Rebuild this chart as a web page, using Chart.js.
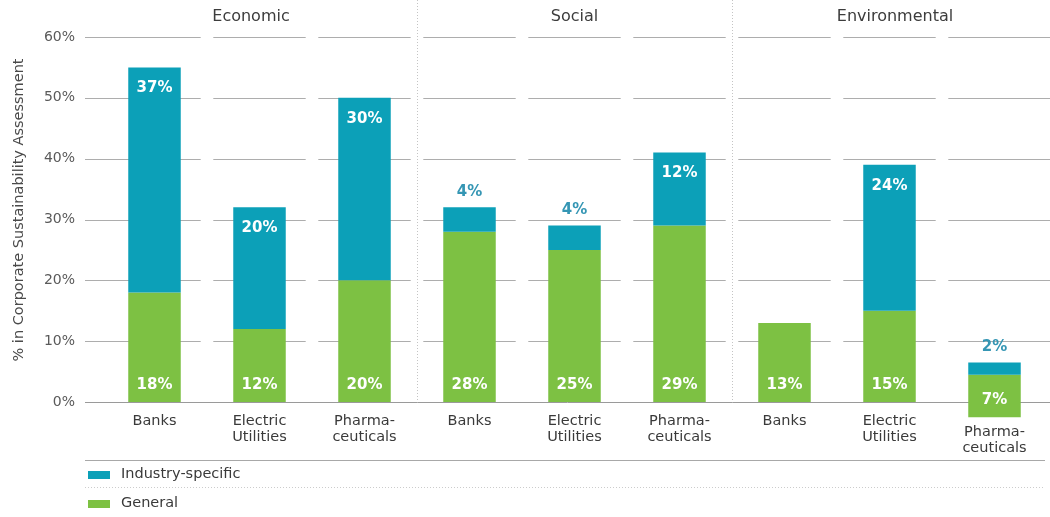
<!DOCTYPE html>
<html>
<head>
<meta charset="utf-8">
<script src="https://cdn.jsdelivr.net/npm/chart.js@4.4.1/dist/chart.umd.min.js"></script>
<style>
  html, body { margin: 0; padding: 0; background: #fff; }
  #wrap { position: relative; width: 1050px; height: 517px; }
</style>
</head>
<body>
<div id="wrap"><canvas id="chart"></canvas></div>
<script>
// criteria groups, each split by industry
const groups = ['Economic', 'Social', 'Environmental'];
const industries = [['Banks'], ['Electric', 'Utilities'], ['Pharma-', 'ceuticals']];
const categories = groups.flatMap(() => industries);

// weight (%) of general vs. industry-specific criteria
const general = [18, 12, 20, 28, 25, 29, 13, 15, 7];
const industrySpecific = [37, 20, 30, 4, 4, 12, 0, 24, 2];
// where each column starts on the value axis (the last one sits a little low)
const columnStart = [0, 0, 0, 0, 0, 0, 0, 0, -2.5];

const yTicks = [0, 10, 20, 30, 40, 50, 60];
const yTitle = '% in Corporate Sustainability Assessment';

const TEAL = '#0ca0b8';
const GREEN = '#7dc143';
const FONT = "'DejaVu Sans', sans-serif";

const generalBars = general.map((v, i) => [columnStart[i], columnStart[i] + v]);
const industryBars = industrySpecific.map((v, i) => {
    const from = columnStart[i] + general[i];
    return [from, from + v];
});

function font(size, weight) {
    return (weight || 'normal') + ' ' + size + 'px ' + FONT;
}

// segmented gridlines, group separators and titles
const backdrop = {
    id: 'backdrop',
    beforeDatasetsDraw(chart) {
        const { ctx, chartArea } = chart;
        const x = chart.scales.x;
        const y = chart.scales.y;
        const n = categories.length;
        const step = x.getPixelForValue(1) - x.getPixelForValue(0);
        const half = step * 0.44;
        const leftEdge = chartArea.left - 17;

        ctx.save();
        ctx.strokeStyle = '#adadad';
        ctx.lineWidth = 1;
        yTicks.forEach(t => {
            if (t === 0) return;
            const py = Math.round(y.getPixelForValue(t)) + 0.5;
            for (let i = 0; i < n; i++) {
                const cx = x.getPixelForValue(i);
                const l = i === 0 ? leftEdge : cx - half;
                const r = i === n - 1 ? chart.width : cx + half;
                ctx.beginPath();
                ctx.moveTo(l, py);
                ctx.lineTo(r, py);
                ctx.stroke();
            }
        });

        // zero line
        const zy = Math.round(y.getPixelForValue(0)) + 0.5;
        ctx.strokeStyle = '#9a9a9a';
        ctx.beginPath();
        ctx.moveTo(leftEdge, zy);
        ctx.lineTo(chart.width, zy);
        ctx.stroke();

        // dotted separators between groups
        const per = industries.length;
        const bounds = [leftEdge];
        for (let g = 1; g < groups.length; g++) {
            const b = (x.getPixelForValue(g * per - 1) + x.getPixelForValue(g * per)) / 2;
            bounds.push(b);
            ctx.strokeStyle = '#c4c4c4';
            ctx.setLineDash([1, 2]);
            ctx.beginPath();
            ctx.moveTo(Math.round(b) + 0.5, 0);
            ctx.lineTo(Math.round(b) + 0.5, zy);
            ctx.stroke();
        }
        ctx.setLineDash([]);
        bounds.push(chart.width + 8);

        ctx.fillStyle = '#3c3c3c';
        ctx.font = font(16);
        ctx.textAlign = 'center';
        ctx.textBaseline = 'middle';
        groups.forEach((g, i) => {
            ctx.fillText(g, (bounds[i] + bounds[i + 1]) / 2, 17);
        });

        // value axis title
        ctx.save();
        ctx.translate(19, 210);
        ctx.rotate(-Math.PI / 2);
        ctx.fillStyle = '#4a4a4a';
        ctx.font = font(14.5);
        ctx.fillText(yTitle, 0, 0);
        ctx.restore();
        ctx.restore();
    },
    afterDatasetsDraw(chart) {
        const { ctx } = chart;
        const x = chart.scales.x;
        const y = chart.scales.y;
        const zy = y.getPixelForValue(0);
        const gMeta = chart.getDatasetMeta(1);
        const iMeta = chart.getDatasetMeta(0);

        ctx.save();
        ctx.textAlign = 'center';
        ctx.textBaseline = 'middle';

        // values on the columns
        ctx.font = font(15, 'bold');
        general.forEach((v, i) => {
            const bar = gMeta.data[i];
            ctx.fillStyle = '#fff';
            ctx.fillText(v + '%', bar.x, bar.base - 17);
        });
        industrySpecific.forEach((v, i) => {
            if (!v) return;
            const bar = iMeta.data[i];
            if (v >= 10) {
                ctx.fillStyle = '#fff';
                ctx.fillText(v + '%', bar.x, bar.y + 21);
            } else {
                ctx.fillStyle = '#3596b4';
                ctx.fillText(v + '%', bar.x, bar.y - 15);
            }
        });

        // industry names under each column
        ctx.fillStyle = '#3a3a3a';
        ctx.font = font(14.5);
        categories.forEach((lines, i) => {
            const bottom = gMeta.data[i].base;
            const top = Math.max(zy + 19, bottom + 15);
            lines.forEach((s, k) => ctx.fillText(s, x.getPixelForValue(i), top + k * 16));
        });

        // legend block
        const left = 85;
        const right = 1045;
        ctx.strokeStyle = '#a8a8a8';
        ctx.lineWidth = 1;
        ctx.beginPath();
        ctx.moveTo(left, 460.5);
        ctx.lineTo(right, 460.5);
        ctx.stroke();

        ctx.strokeStyle = '#cccccc';
        ctx.setLineDash([1, 2]);
        ctx.beginPath();
        ctx.moveTo(left, 487.5);
        ctx.lineTo(right, 487.5);
        ctx.stroke();
        ctx.setLineDash([]);

        ctx.textAlign = 'left';
        const rows = [474, 503];
        [0, 1].forEach((d, k) => {
            const ds = chart.data.datasets[d];
            ctx.fillStyle = ds.backgroundColor;
            ctx.fillRect(88, rows[k] - 3, 22, 8);
            ctx.fillStyle = '#3a3a3a';
            ctx.fillText(ds.label, 121, rows[k]);
        });
        ctx.restore();
    }
};

new Chart(document.getElementById('chart'), {
    type: 'bar',
    data: {
        labels: categories.map(l => l.join(' ')),
        datasets: [
            { label: 'Industry-specific', data: industryBars, backgroundColor: TEAL, clip: false },
            { label: 'General', data: generalBars, backgroundColor: GREEN, clip: false }
        ]
    },
    options: {
        responsive: true,
        maintainAspectRatio: false,
        animation: false,
        barPercentage: 1,
        categoryPercentage: 0.5,
        layout: { padding: { top: 37, bottom: 115, left: 0, right: 3 } },
        plugins: {
            legend: { display: false },
            tooltip: { enabled: false }
        },
        scales: {
            x: { display: false, stacked: true },
            y: {
                min: 0,
                max: 60,
                afterFit(scale) { scale.width = 102; },
                afterBuildTicks(scale) { scale.ticks = yTicks.map(v => ({ value: v })); },
                grid: { display: false, drawTicks: false },
                border: { display: false },
                ticks: {
                    padding: 27,
                    color: '#5a5a5a',
                    font: { family: FONT, size: 14 },
                    callback: v => v + '%'
                }
            }
        }
    },
    plugins: [backdrop]
});
</script>
</body>
</html>
